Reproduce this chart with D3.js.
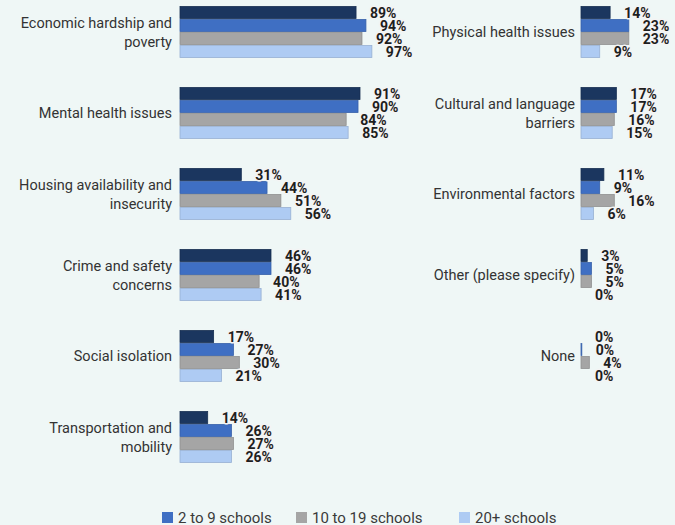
<!DOCTYPE html>
<html>
<head>
<meta charset="utf-8">
<script src="https://cdn.jsdelivr.net/npm/d3@7"></script>
<style>
  html, body { margin: 0; padding: 0; background: #eff7f6; }
  svg { display: block; font-family: Roboto, "Noto Sans", sans-serif; }
</style>
</head>
<body>
<svg id="chart" width="675" height="525"></svg>
<script>
const seriesNames = ["1 school", "2 to 9 schools", "10 to 19 schools", "20+ schools"];
const seriesColors = ["#1b365f", "#3f6fc3", "#a5a5a5", "#aecbf3"];
const legendSeries = ["2 to 9 schools", "10 to 19 schools", "20+ schools"];

const leftCategories = ["Economic hardship and poverty", "Mental health issues", "Housing availability and insecurity", "Crime and safety concerns", "Social isolation", "Transportation and mobility"];
const rightCategories = ["Physical health issues", "Cultural and language barriers", "Environmental factors", "Other (please specify)", "None"];

const leftValues1 = [89, 91, 31, 46, 17, 14];
const leftValues2 = [94, 90, 44, 46, 27, 26];
const leftValues3 = [92, 84, 51, 40, 30, 27];
const leftValues4 = [97, 85, 56, 41, 21, 26];

const rightValues1 = [14, 17, 11, 3, 0];
const rightValues2 = [23, 17, 9, 5, 0.4];
const rightValues3 = [23, 16, 16, 5, 4];
const rightValues4 = [9, 15, 6, 0, 0];

const svg = d3.select("#chart");

const slots = d3.range(6);
const y0 = d3.scaleBand().domain(slots).range([6, 463]).paddingInner(0.358).paddingOuter(0);
const y1 = d3.scaleBand().domain(seriesNames).range([0, y0.bandwidth()]).padding(0);
const color = d3.scaleOrdinal().domain(seriesNames).range(seriesColors);

function panel(categories, valueLists, x0, pxPerUnit, labelRight) {
  const x = d3.scaleLinear().domain([0, 100]).range([x0, x0 + 100 * pxPerUnit]);
  const rows = categories.map((c, i) => ({
    cat: c, slot: i,
    vals: seriesNames.map((s, k) => ({ s, v: valueLists[k][i] }))
  }));
  const g = svg.append("g");
  const grp = g.selectAll("g.grp").data(rows).join("g")
    .attr("transform", d => `translate(0,${y0(d.slot)})`);

  grp.selectAll("rect").data(d => d.vals).join("rect")
    .attr("x", x(0))
    .attr("y", d => y1(d.s) + 0.5)
    .attr("width", d => Math.max(0, x(d.v) - x(0)))
    .attr("height", y1.bandwidth() - 1)
    .attr("fill", d => color(d.s))
    .attr("stroke", d => d3.color(color(d.s)).darker(0.4))
    .attr("stroke-width", d => d.v > 0 ? 0.8 : 0);

  grp.selectAll("text.val").data(d => d.vals).join("text")
    .attr("class", "val")
    .attr("x", d => x(d.v) + 14)
    .attr("y", d => y1(d.s) + y1.bandwidth() / 2)
    .attr("dy", "0.36em")
    .attr("font-size", 14)
    .attr("font-weight", "bold")
    .attr("fill", "#1e1e1e")
    .attr("stroke", "#f4f4f4")
    .attr("stroke-width", 3)
    .attr("stroke-linejoin", "round")
    .attr("paint-order", "stroke")
    .text(d => Math.round(d.v) + "%");

  grp.each(function(d) {
    const t = d3.select(this).append("text")
      .attr("text-anchor", "end")
      .attr("font-size", 14.5)
      .attr("fill", "#333333")
      .attr("x", labelRight);
    const words = d.cat.split(" ");
    let lines = [], line = [];
    const probe = t.append("tspan");
    words.forEach(w => {
      const test = line.concat([w]).join(" ");
      probe.text(test);
      if (probe.node().getComputedTextLength() > 160 && line.length) {
        lines.push(line.join(" "));
        line = [w];
      } else line.push(w);
    });
    lines.push(line.join(" "));
    probe.remove();
    const lh = 19;
    const cy = y0.bandwidth() / 2;
    lines.forEach((ln, j) => {
      t.append("tspan").attr("x", labelRight)
        .attr("y", cy + (j - (lines.length - 1) / 2) * lh)
        .attr("dy", "0.35em")
        .text(ln);
    });
  });
}

panel(leftCategories, [leftValues1, leftValues2, leftValues3, leftValues4], 180, 1.978, 172);
panel(rightCategories, [rightValues1, rightValues2, rightValues3, rightValues4], 581, 2.08, 575);

// legend
const lg = svg.append("g").attr("transform", "translate(0,517)");
const lx = [162, 296, 459];
legendSeries.forEach((s, i) => {
  lg.append("rect").attr("x", lx[i]).attr("y", -5).attr("width", 11).attr("height", 11)
    .attr("fill", color(s));
  lg.append("text").attr("x", lx[i] + 16).attr("y", 0).attr("dy", "0.38em")
    .attr("font-size", 15).attr("fill", "#3a3a3a").text(s);
});
</script>
</body>
</html>
